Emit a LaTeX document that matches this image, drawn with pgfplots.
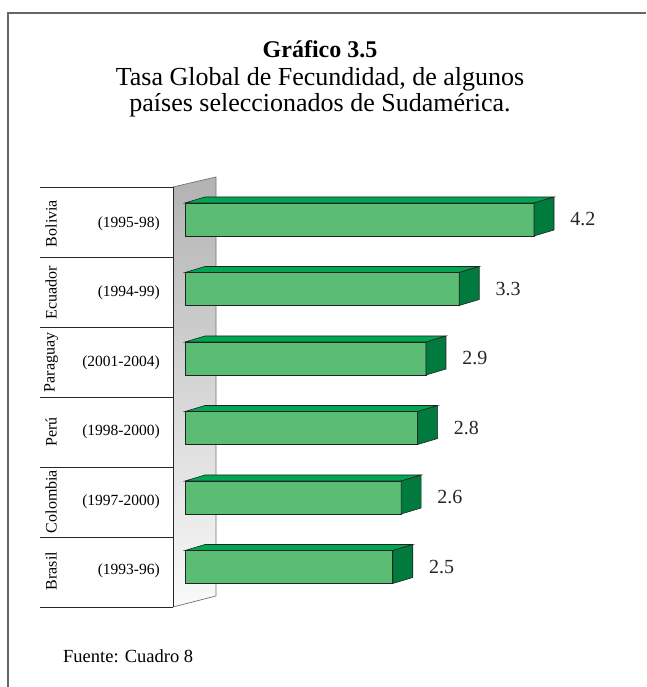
\documentclass[border=0pt]{standalone}
\usepackage{pgfplots}
\pgfplotsset{compat=1.18}
\usepackage{pgfplotstable}
\usepackage{fontspec}
\setmainfont{Liberation Serif}
\definecolor{frontgreen}{HTML}{5ABD73}
\definecolor{topgreen}{HTML}{00A651}
\definecolor{sidegreen}{HTML}{007A3D}
\definecolor{edge}{HTML}{222222}
\pgfplotstableread{
pos val
0 2.5
1 2.6
2 2.8
3 2.9
4 3.3
5 4.2
}\datatable
\begin{document}
\begin{tikzpicture}
\path[use as bounding box] (0,0) rectangle (646pt,687pt);
% frame
\draw[black!60, line width=1.2pt] (8pt,0pt) -- (8pt,674pt) -- (646pt,674pt);
% title
\node[anchor=base, font=\fontsize{24}{28}\selectfont\bfseries] at (320pt,629pt) {Gráfico 3.5};
\node[anchor=base, font=\fontsize{26}{30}\selectfont] at (320pt,601pt) {Tasa Global de Fecundidad, de algunos};
\node[anchor=base, font=\fontsize{26}{30}\selectfont] at (320pt,575pt) {países seleccionados de Sudamérica.};
% table lines
\foreach \yy in {187,257,327,397,467,537,607} {
  \draw[black!85, line width=0.8pt] (40pt,{687pt-\yy pt}) -- (173pt,{687pt-\yy pt});
}
% wall
\shade[top color=black!30, bottom color=black!2] (173pt,500pt) -- (216pt,510pt) -- (216pt,91pt) -- (173pt,80pt) -- cycle;
\draw[black!55, line width=0.7pt] (173pt,500pt) -- (216pt,510pt) -- (216pt,91pt) -- (173pt,80pt);
\draw[black!85, line width=0.8pt] (173pt,80pt) -- (173pt,500pt);
% source
\node[anchor=base west, font=\fontsize{18.5}{22}\selectfont, inner sep=0pt] at (63pt,24pt) {Fuente: Cuadro 8};
\begin{axis}[
  x=83.1pt, y=69.5pt,
  xmin=0, xmax=5.2, ymin=-0.75, ymax=5.75,
  anchor=south west, at={(185pt,67.875pt)},
  axis x line=none,
  axis y line*=left,
  y axis line style={draw=none},
  ytick={0,1,2,3,4,5},
  yticklabels={(1993-96),(1997-2000),(1998-2000),(2001-2004),(1994-99),(1995-98)},
  major tick length=0pt,
  yticklabel style={font=\fontsize{15.5}{18}\selectfont, anchor=east, inner sep=0pt, xshift=-25pt, yshift=-4pt},
  clip=false,
  /pgf/number format/assume math mode=true,
]
\addplot[xbar, bar width=33pt, fill=frontgreen, draw=edge, line width=0.6pt,
  nodes near coords,
  nodes near coords style={anchor=west, inner sep=0pt, xshift=36pt, font=\fontsize{20}{24}\selectfont, text=black!85},
] table[x=val, y=pos] {\datatable};
\addplot[scatter, only marks, mark=*,
  visualization depends on={\thisrow{val} \as \barval},
  scatter/@pre marker code/.code={
    \pgfmathsetmacro\L{-\barval*83.1}
    \pgfmathsetmacro\LL{20-\barval*83.1}
    \filldraw[fill=topgreen, draw=edge, line width=0.6pt] (\L pt,16.5pt) -- (0pt,16.5pt) -- (20pt,22.5pt) -- (\LL pt,22.5pt) -- cycle;
    \filldraw[fill=sidegreen, draw=edge, line width=0.6pt] (0pt,-16.5pt) -- (0pt,16.5pt) -- (20pt,22.5pt) -- (20pt,-10.5pt) -- cycle;
    \scope[opacity=0]
  },
  scatter/@post marker code/.code={\endscope},
] table[x=val, y=pos] {\datatable};
\node[rotate=90, font=\fontsize{16}{19}\selectfont] at (axis cs:-1.612,-0.058) {Brasil};
\node[rotate=90, font=\fontsize{16}{19}\selectfont] at (axis cs:-1.612,0.942) {Colombia};
\node[rotate=90, font=\fontsize{16}{19}\selectfont] at (axis cs:-1.612,1.942) {Perú};
\node[rotate=90, font=\fontsize{16}{19}\selectfont] at (axis cs:-1.612,2.942) {Paraguay};
\node[rotate=90, font=\fontsize{16}{19}\selectfont] at (axis cs:-1.612,3.942) {Ecuador};
\node[rotate=90, font=\fontsize{16}{19}\selectfont] at (axis cs:-1.612,4.942) {Bolivia};
\end{axis}
\end{tikzpicture}
\end{document}
